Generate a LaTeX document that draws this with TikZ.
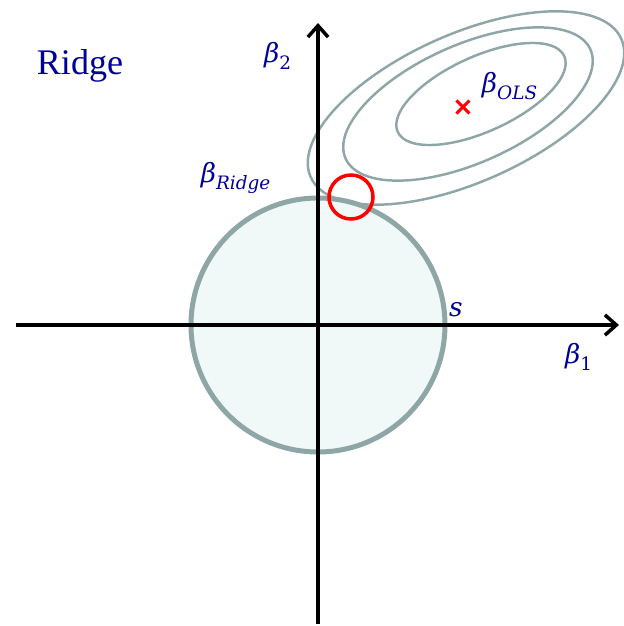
\documentclass[tikz,border=0pt]{standalone}
\usepackage{fontspec}
\setmainfont{Liberation Serif}
\newfontfamily\lblfont{DejaVu Serif}
\usepackage{amsmath}
\usetikzlibrary{arrows.meta}
\definecolor{ridgeblue}{RGB}{0,0,150}
\definecolor{contgray}{RGB}{143,166,166}
\definecolor{ballfill}{RGB}{240,248,248}
\newcommand{\lb}[1]{\text{\lblfont\itshape #1}}
\newcommand{\lbup}[1]{\text{\lblfont #1}}
\tikzset{
  axis/.style = {line width=2pt, -{Straight Barb[length=6.5pt,width=11.5pt]}},
  contour/.style = {contgray, line width=1.4pt},
  lbl/.style = {text=ridgeblue, inner sep=0pt, font=\fontsize{15}{18}\selectfont},
}
\begin{document}
\begin{tikzpicture}
\useasboundingbox (-6.36,-6.02) rectangle (6.12,6.5);
\def\rad{2.54}
             %constraint region
\draw [contgray, fill=ballfill, line width=2.85pt] (0,0) circle (\rad);
             %contours of the loss
\draw [contour, rotate around={24.5:(3.26,4.62)}] (3.26,4.62) ellipse (1.83 and 0.75);
\draw [contour, rotate around={24:(3.0,4.42)}] (3.0,4.42) ellipse (2.68 and 1.18);
\begin{scope}
\clip (-6.36,-6.02) rectangle (6.12,6.5);
\draw [contour, rotate around={24:(2.96,4.34)}] (2.96,4.34) ellipse (3.4 and 1.48);
\end{scope}
             %axes
\coordinate (xleft) at (-6.04,0);
\coordinate (xright) at (6.02,0);
\coordinate (ybottom) at (0,-5.98);
\coordinate (ytop) at (0,6.04);
\draw [axis] (xleft) -- (xright);
\draw [axis] (ybottom) -- (ytop);
             %solutions
\coordinate (ols) at (2.9,4.36);
\draw [red, line width=1.8pt] (ols) ++(-0.13,-0.13) -- ++(0.26,0.26)
      (ols) ++(-0.13,0.13) -- ++(0.26,-0.26);
\draw [red, line width=2pt] (0.66,2.56) circle (0.44);
             %labels
\node [text=ridgeblue, font=\fontsize{20.5}{24}\selectfont] (title) at (-4.76,5.18) {Ridge};
\node [lbl] (b2) at (-0.8,5.38) {$\lb{β}_{\lbup{2}}$};
\node [lbl] (b1) at (5.22,-0.64) {$\lb{β}_{\lbup{1}}$};
\node [lbl] (s) at (2.76,0.3) {$\lb{s}$};
\node [lbl] (bridge) at (-1.64,2.94) {$\lb{β}_{\lb{Ridge}}$};
\node [lbl] (bols) at (3.84,4.78) {$\lb{β}_{\lb{OLS}}$};
\end{tikzpicture}
\end{document}
